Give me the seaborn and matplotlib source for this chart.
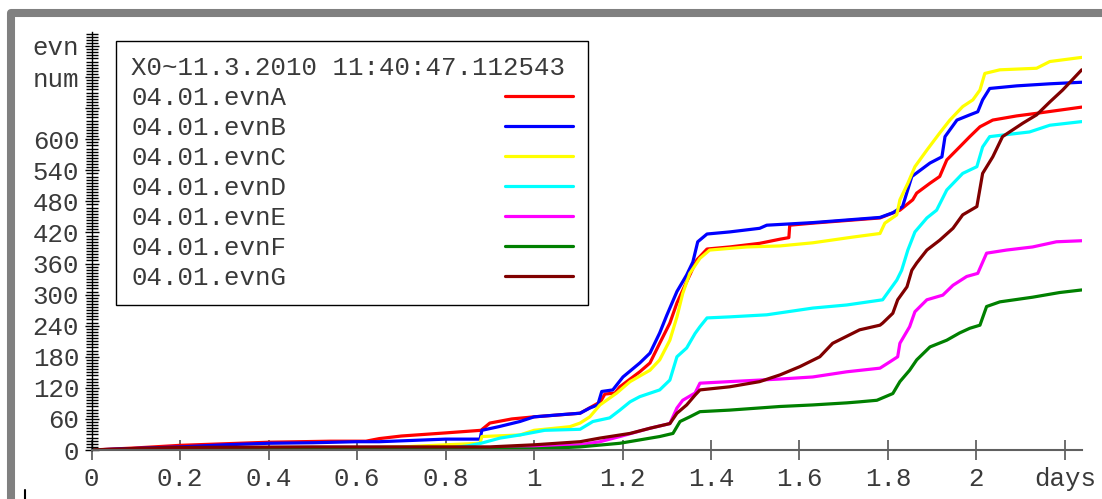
import numpy as np
import pandas as pd
import matplotlib.pyplot as plt
import seaborn as sns
from matplotlib.lines import Line2D
from matplotlib.patches import Rectangle
from matplotlib.ticker import MultipleLocator

# cumulative event counts (x in days)
days_A = [0, 0.1, 0.2, 0.3, 0.4, 0.54, 0.62, 0.65, 0.7, 0.8, 0.88, 0.9, 0.95, 1.0, 1.06, 1.104,
          1.15, 1.16, 1.183, 1.194, 1.239, 1.262, 1.284, 1.307, 1.323, 1.345, 1.368, 1.391,
          1.442, 1.51, 1.556, 1.576, 1.578, 1.63, 1.782, 1.827, 1.856, 1.865, 1.895, 1.917,
          1.933, 1.962, 1.985, 2.008, 2.037, 2.091, 2.136, 2.238]
evn_A = [0, 4, 9, 12, 15, 17, 17, 22, 27, 33, 38, 52, 60, 64, 68, 71,
         93, 108, 110, 122, 151, 168, 206, 245, 284, 325, 367, 388,
         392, 399, 407, 410, 434, 438, 448, 463, 483, 496, 515, 528,
         560, 585, 605, 624, 637, 645, 650, 662]

days_B = [0, 0.1, 0.2, 0.3, 0.4, 0.5, 0.6, 0.65, 0.8, 0.878, 0.882, 0.92, 0.968, 1.0, 1.058,
          1.104, 1.126, 1.144, 1.153, 1.178, 1.201, 1.239, 1.262, 1.284, 1.3, 1.323, 1.345,
          1.359, 1.37, 1.391, 1.442, 1.51, 1.526, 1.63, 1.782, 1.811, 1.833, 1.854, 1.895,
          1.922, 1.929, 1.956, 1.985, 2.003, 2.014, 2.03, 2.091, 2.166, 2.238]
evn_B = [0, 3, 6, 10, 13, 14, 16, 16, 21, 21, 38, 45, 55, 64, 68,
         71, 81, 87, 113, 116, 141, 168, 187, 226, 260, 306, 338,
         363, 402, 417, 421, 428, 434, 439, 449, 458, 470, 528, 554,
         566, 605, 637, 647, 653, 676, 698, 703, 707, 710]

days_C = [0, 0.2, 0.4, 0.6, 0.7, 0.8, 0.878, 0.882, 0.968, 1.0, 1.081, 1.104, 1.126, 1.149,
          1.187, 1.217, 1.262, 1.284, 1.307, 1.323, 1.336, 1.352, 1.375, 1.397, 1.481, 1.556,
          1.63, 1.72, 1.782, 1.793, 1.82, 1.827, 1.845, 1.861, 1.888, 1.917, 1.94, 1.969,
          1.992, 2.008, 2.019, 2.053, 2.136, 2.166, 2.238]
evn_C = [0, 1, 2, 4, 6, 10, 13, 26, 29, 38, 45, 52, 64, 87,
         110, 132, 154, 174, 212, 257, 302, 341, 370, 386, 392, 394,
         400, 411, 418, 438, 454, 483, 515, 547, 579, 612, 637, 663,
         676, 695, 727, 734, 737, 750, 758]

days_D = [0, 0.5, 0.8, 0.85, 0.88, 0.923, 0.968, 1.024, 1.104, 1.133, 1.171, 1.194, 1.217,
          1.239, 1.284, 1.307, 1.323, 1.345, 1.364, 1.375, 1.391, 1.442, 1.526, 1.63, 1.707,
          1.788, 1.804, 1.82, 1.831, 1.845, 1.861, 1.888, 1.91, 1.933, 1.969, 2.001, 2.014,
          2.03, 2.059, 2.12, 2.166, 2.238]
evn_D = [0, 1, 3, 8, 13, 23, 29, 38, 40, 55, 62, 77, 93,
         103, 116, 135, 180, 197, 225, 238, 255, 257, 261, 274, 280,
         290, 309, 328, 347, 386, 421, 448, 463, 502, 534, 547, 585,
         605, 608, 614, 627, 634]

days_E = [0, 0.5, 0.9, 1.0, 1.104, 1.149, 1.194, 1.262, 1.307, 1.323, 1.336, 1.364, 1.375,
          1.442, 1.556, 1.63, 1.707, 1.782, 1.804, 1.822, 1.827, 1.849, 1.861, 1.888, 1.924,
          1.947, 1.978, 2.003, 2.023, 2.068, 2.127, 2.181, 2.238]
evn_E = [0, 1, 3, 6, 10, 16, 26, 42, 51, 81, 96, 110, 129,
         132, 137, 141, 151, 158, 170, 180, 206, 238, 267, 290, 299,
         318, 335, 341, 380, 386, 392, 402, 404]

days_F = [0, 0.5, 1.0, 1.104, 1.194, 1.284, 1.314, 1.33, 1.352, 1.375, 1.442, 1.556, 1.63,
          1.707, 1.736, 1.775, 1.811, 1.827, 1.849, 1.865, 1.895, 1.933, 1.962, 1.985, 2.008,
          2.023, 2.053, 2.127, 2.188, 2.238]
evn_F = [0, 1, 2, 6, 13, 26, 32, 55, 64, 74, 77, 84, 87,
         91, 93, 96, 109, 132, 154, 174, 199, 212, 226, 235, 241,
         277, 286, 295, 304, 309]

days_G = [0, 0.1, 0.2, 0.5, 0.9, 1.0, 1.104, 1.149, 1.217, 1.262, 1.307, 1.323, 1.345, 1.364,
          1.375, 1.442, 1.51, 1.556, 1.601, 1.646, 1.675, 1.736, 1.782, 1.788, 1.811, 1.822,
          1.843, 1.854, 1.865, 1.888, 1.917, 1.947, 1.969, 2.001, 2.014, 2.037, 2.059, 2.105,
          2.136, 2.166, 2.195, 2.238]
evn_G = [0, 3, 5, 6, 6, 10, 16, 23, 32, 42, 51, 71, 87, 106,
         116, 122, 132, 145, 161, 180, 206, 232, 241, 245, 264, 290,
         315, 347, 361, 386, 405, 428, 454, 470, 534, 566, 605, 631,
         647, 672, 695, 734]

names = ["04.01.evnA", "04.01.evnB", "04.01.evnC", "04.01.evnD",
         "04.01.evnE", "04.01.evnF", "04.01.evnG"]
colors = ["#ff0000", "#0000ff", "#ffff00", "#00ffff", "#ff00ff", "#008000", "#800000"]
all_days = [days_A, days_B, days_C, days_D, days_E, days_F, days_G]
all_evn = [evn_A, evn_B, evn_C, evn_D, evn_E, evn_F, evn_G]

x_ticks = [0, 0.2, 0.4, 0.6, 0.8, 1.0, 1.2, 1.4, 1.6, 1.8, 2.0, 2.2]
x_labels = ["0", "0.2", "0.4", "0.6", "0.8", "1", "1.2", "1.4", "1.6", "1.8", "2", "days"]
y_ticks = list(range(0, 781, 60))
y_labels = [str(v) for v in range(0, 601, 60)] + ["", "num", "evn"]

frames = []
for name, d, v in zip(names, all_days, all_evn):
    frames.append(pd.DataFrame({"days": d, "evn": v, "series": name}))
df = pd.concat(frames, ignore_index=True)

sns.set_style("ticks")
plt.rcParams["font.family"] = ["Liberation Mono", "DejaVu Sans Mono"]
txt = "#3a3a3a"
fs = 18.5

fig = plt.figure(figsize=(11.02, 4.99), dpi=100)
ax = fig.add_axes([91.7 / 1102, 49 / 499, 990 / 1102, 418 / 499])

sns.lineplot(data=df, x="days", y="evn", hue="series", hue_order=names,
             palette=dict(zip(names, colors)), estimator=None, linewidth=2.3,
             legend=False, ax=ax)

ax.set_xlim(0, 2.238)
ax.set_ylim(0, 807)
ax.set_xlabel("")
ax.set_ylabel("")
for s in ["top", "right"]:
    ax.spines[s].set_visible(False)
ax.spines["left"].set_color("black")
ax.spines["left"].set_linewidth(1.0)
ax.spines["bottom"].set_color("#606060")
ax.spines["bottom"].set_linewidth(1.5)

ax.set_xticks(x_ticks)
ax.set_xticklabels(x_labels)
ax.set_yticks(y_ticks)
ax.set_yticklabels(y_labels)
ax.yaxis.set_minor_locator(MultipleLocator(6))
ax.tick_params(axis="x", direction="inout", length=14, width=1.2, color="#555555",
               pad=5, labelsize=fs, labelcolor=txt)
ax.tick_params(axis="y", which="major", direction="inout", length=10, width=1,
               color="black", pad=4, labelsize=fs, labelcolor=txt)
ax.tick_params(axis="y", which="minor", direction="inout", length=8, width=1, color="black")

handles = [Line2D([], [], color=c, lw=2.3) for c in colors]
leg = ax.legend(handles, names, title="X0~11.3.2010 11:40:47.112543",
                loc="upper left", bbox_to_anchor=(116 / 1102, 1 - 41 / 499),
                bbox_transform=fig.transFigure, borderaxespad=0,
                markerfirst=False, handlelength=2.65, handletextpad=8.5,
                labelspacing=0.23, borderpad=0.6, fancybox=False, frameon=True,
                edgecolor="black", framealpha=1, fontsize=fs, title_fontsize=fs,
                alignment="left", labelcolor=txt)
leg.get_title().set_color(txt)
leg.get_frame().set_linewidth(1.0)

# grey window frame and small mark at the bottom left
fig.add_artist(Rectangle((11 / 1102, -0.1), 1.2, 1 - 13 / 499 + 0.1,
                         transform=fig.transFigure, fill=False,
                         edgecolor="#808080", linewidth=5.8, joinstyle="round"))
fig.add_artist(Line2D([25 / 1102, 25 / 1102], [0, 9 / 499], color="black", lw=1.5))

fig.savefig("out.png", dpi=100)
